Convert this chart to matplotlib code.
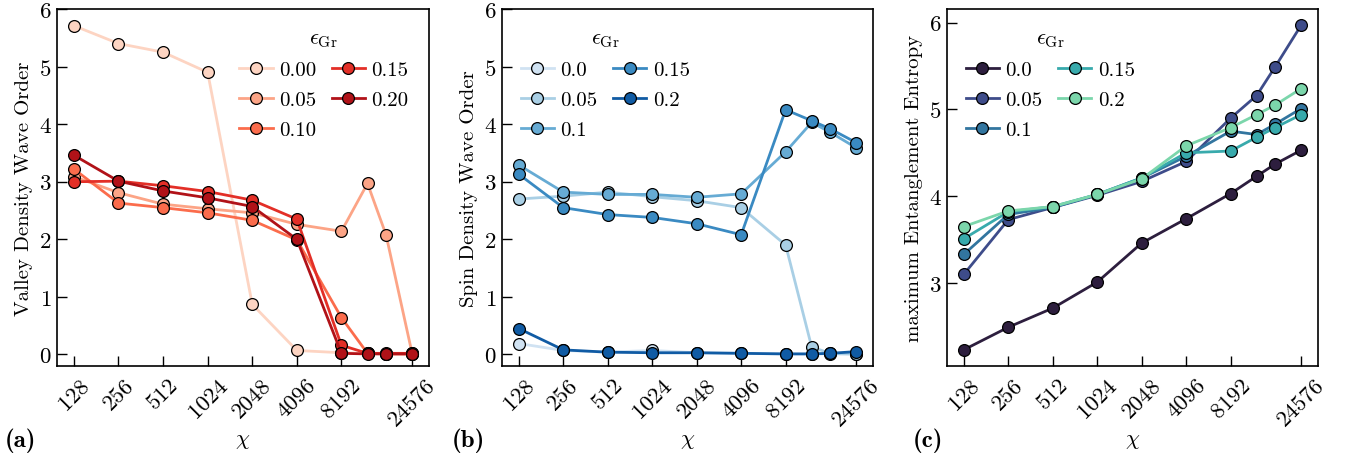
import matplotlib
matplotlib.use('Agg')
import matplotlib.pyplot as plt

plt.rcParams['font.family'] = 'serif'
plt.rcParams['font.serif'] = ['cmr10']
plt.rcParams['mathtext.fontset'] = 'cm'
plt.rcParams['axes.formatter.use_mathtext'] = True
plt.rcParams['font.size'] = 15

chi = [128, 256, 512, 1024, 2048, 4096, 8192, 12288, 16384, 24576]
chi_ticks = [128, 256, 512, 1024, 2048, 4096, 8192, 24576]

# (a) valley density wave order
labels_a = ['0.00', '0.05', '0.10', '0.15', '0.20']
vdw = [
    [5.71, 5.40, 5.25, 4.90, 0.87, 0.07, 0.03, 0.02, 0.01, 0.01],
    [3.09, 2.81, 2.61, 2.53, 2.46, 2.26, 2.14, 2.97, 2.08, 0.02],
    [3.22, 2.63, 2.55, 2.46, 2.33, 1.99, 0.64, 0.02, 0.01, 0.01],
    [3.00, 3.01, 2.93, 2.83, 2.68, 2.35, 0.16, 0.02, 0.02, 0.02],
    [3.46, 3.01, 2.84, 2.72, 2.57, 2.00, 0.02, 0.01, 0.01, 0.01],
]
colors_a = ['#fdd4c2', '#fca486', '#fb6c4c', '#e32f27', '#b11218']

# (b) spin density wave order
labels_bc = ['0.0', '0.05', '0.1', '0.15', '0.2']
sdw = [
    [0.19, 0.07, 0.04, 0.07, 0.03, 0.02, 0.01, 0.01, 0.01, 0.00],
    [2.70, 2.75, 2.82, 2.74, 2.67, 2.55, 1.90, 0.13, 0.02, 0.01],
    [3.29, 2.82, 2.78, 2.78, 2.73, 2.79, 3.52, 4.03, 3.86, 3.59],
    [3.13, 2.55, 2.43, 2.38, 2.27, 2.08, 4.25, 4.06, 3.92, 3.68],
    [0.45, 0.08, 0.04, 0.03, 0.03, 0.02, 0.01, 0.01, 0.02, 0.05],
]
colors_b = ['#d0e2f2', '#a9cfe5', '#66abd4', '#3a8ac2', '#105ba4']

# (c) maximum entanglement entropy
ent = [
    [2.23, 2.49, 2.71, 3.01, 3.46, 3.74, 4.03, 4.23, 4.37, 4.53],
    [3.10, 3.73, 3.87, 4.01, 4.17, 4.40, 4.90, 5.16, 5.49, 5.97],
    [3.33, 3.79, 3.87, 4.02, 4.21, 4.46, 4.75, 4.71, 4.83, 5.01],
    [3.51, 3.82, 3.88, 4.02, 4.21, 4.50, 4.52, 4.68, 4.79, 4.94],
    [3.65, 3.83, 3.88, 4.02, 4.20, 4.58, 4.79, 4.94, 5.05, 5.24],
]
colors_c = ['#2d1e3e', '#3e4c8a', '#32759f', '#38aaac', '#7bd6ab']

fig = plt.figure(figsize=(13.51, 4.56), dpi=100)
W, H = 1351, 456
boxes = [(57, 429), (502, 873), (947, 1318)]
axes = []
for x0, x1 in boxes:
    axes.append(fig.add_axes([x0 / W, 1 - 367 / H, (x1 - x0) / W, 357 / H]))


def draw(ax, series, labels, colors, ylabel, legend_loc, anchor):
    for ys, lab, c in zip(series, labels, colors):
        ax.plot(chi, ys, '-o', color=c, lw=2, ms=8.5, mfc=c, mec='black',
                mew=0.9, label=lab)
    ax.set_xscale('log', base=2)
    ax.set_xticks(chi_ticks)
    ax.set_xticklabels([str(t) for t in chi_ticks], rotation=45)
    ax.minorticks_off()
    ax.tick_params(direction='in', length=7, width=1, top=False, right=False,
                   labelsize=16.5)
    ax.tick_params(axis='x', pad=6)
    ax.tick_params(axis='y', pad=4)
    for s in ax.spines.values():
        s.set_linewidth(1.2)
    ax.set_xlabel(r'$\chi$', fontsize=16, labelpad=1)
    ax.set_ylabel(ylabel, fontsize=15)
    ax.legend(title=r'$\epsilon_{\rm Gr}$', ncol=2, frameon=False,
              loc=legend_loc, bbox_to_anchor=anchor, handlelength=1.6,
              handletextpad=0.3, columnspacing=0.75, labelspacing=0.55,
              fontsize=15, title_fontsize=16)


draw(axes[0], vdw, labels_a, colors_a, 'Valley Density Wave Order',
     'upper right', (0.995, 1.0))
axes[0].set_ylim(-0.2, 6.0)
axes[0].set_yticks([0, 1, 2, 3, 4, 5, 6])

draw(axes[1], sdw, labels_bc, colors_b, 'Spin Density Wave Order',
     'upper left', (0.0, 1.0))
axes[1].set_ylim(-0.2, 6.0)
axes[1].set_yticks([0, 1, 2, 3, 4, 5, 6])

draw(axes[2], ent, labels_bc, colors_c, 'maximum Entanglement Entropy',
     'upper left', (0.0, 1.0))
axes[2].set_yticks([3, 4, 5, 6])

for lab, px in zip(['a', 'b', 'c'], [5, 452, 913]):
    fig.text(px / W, 1 - 447 / H, '(%s)' % lab, fontsize=18,
             family='cmb10')

fig.savefig('out.png', dpi=100)
